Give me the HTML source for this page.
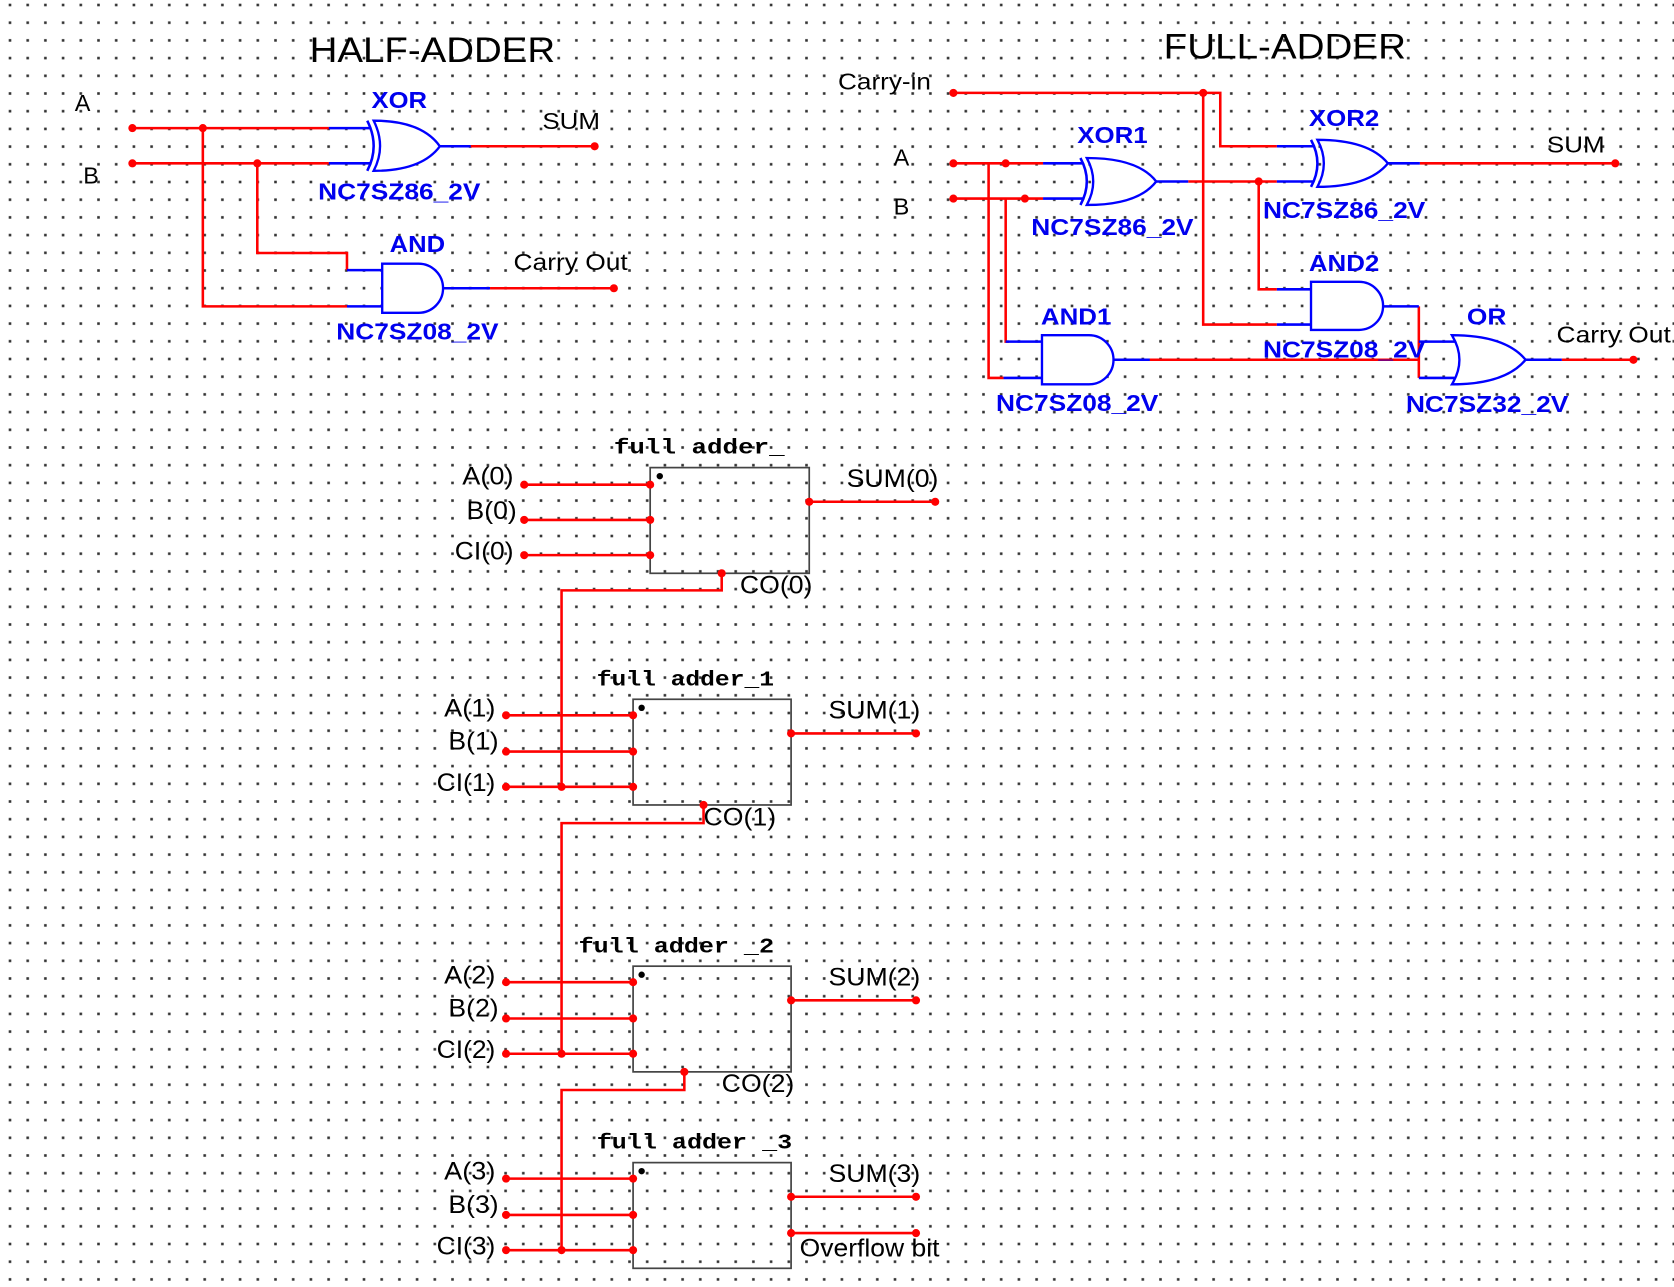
<!DOCTYPE html>
<html><head><meta charset="utf-8"><style>
html,body{margin:0;padding:0;background:#fff;}
svg{display:block;}
.t{font-family:"Liberation Sans",sans-serif;fill:#000;}
.b{font-family:"Liberation Sans",sans-serif;font-weight:bold;fill:#0000ee;}
.m{font-family:"Liberation Mono",monospace;font-weight:bold;fill:#000;}
.r{stroke:#ff0000;stroke-width:2.4;fill:none;}
.u{stroke:#0000ff;stroke-width:2.4;fill:none;}
.g{stroke:#0000ff;stroke-width:2.2;fill:#fff;}
.k{stroke:#444;stroke-width:1.6;fill:none;}
</style></head><body>
<svg width="1674" height="1287" viewBox="0 0 1674 1287" xmlns="http://www.w3.org/2000/svg">
<defs>
<pattern id="grid" x="10" y="5" width="17.7" height="17.7" patternUnits="userSpaceOnUse">
<rect x="-1.3" y="-1.3" width="2.6" height="2.6" fill="#333"/>
<rect x="16.4" y="-1.3" width="2.6" height="2.6" fill="#333"/>
<rect x="-1.3" y="16.4" width="2.6" height="2.6" fill="#333"/>
<rect x="16.4" y="16.4" width="2.6" height="2.6" fill="#333"/>
</pattern>
</defs>
<rect width="1674" height="1287" fill="#fff"/>
<rect width="1674" height="1287" fill="url(#grid)"/>
<g transform="scale(1.0676)">
<!-- HALF ADDER -->
<text class="t" x="290" y="58" font-size="33" textLength="230" lengthAdjust="spacingAndGlyphs">HALF-ADDER</text>
<text class="t" x="70" y="104" font-size="22">A</text>
<text class="t" x="78" y="172" font-size="22">B</text>
<path class="r" d="M124 120H308 M124 153H308 M190 120V287H325 M241 153V237H325V253"/>
<path class="u" d="M308 120H348 M308 153H348 M325 253H358 M325 287H358"/>
<path class="g" d="M350 113 Q362 137 350 160 Q395 160 412 137 Q395 113 350 113Z"/>
<path class="u" d="M344 113 Q356 137 344 160"/>
<path class="u" d="M412 137H441"/><path class="r" d="M441 137H557"/>
<path class="g" d="M358 247H392 A23 23 0 0 1 392 293H358Z"/>
<path class="u" d="M415 270H459"/><path class="r" d="M459 270H575"/>
<g fill="#f00"><circle cx="124" cy="120" r="3.8"/><circle cx="124" cy="153" r="3.8"/><circle cx="190" cy="120" r="3.8"/><circle cx="241" cy="153" r="3.8"/><circle cx="557" cy="137" r="3.8"/><circle cx="575" cy="270" r="3.8"/></g>
<text class="b" x="348" y="101" font-size="22" textLength="52" lengthAdjust="spacingAndGlyphs">XOR</text>
<text class="b" x="298" y="187" font-size="22" textLength="152" lengthAdjust="spacingAndGlyphs">NC7SZ86_2V</text>
<text class="t" x="508" y="121" font-size="22" textLength="54" lengthAdjust="spacingAndGlyphs">SUM</text>
<text class="b" x="365" y="236" font-size="22" textLength="52" lengthAdjust="spacingAndGlyphs">AND</text>
<text class="t" x="481" y="253" font-size="22" textLength="107" lengthAdjust="spacingAndGlyphs">Carry Out</text>
<text class="b" x="315" y="318" font-size="22" textLength="152" lengthAdjust="spacingAndGlyphs">NC7SZ08_2V</text>

<!-- FULL ADDER -->
<text class="t" x="1090" y="55" font-size="33" textLength="227" lengthAdjust="spacingAndGlyphs">FULL-ADDER</text>
<text class="t" x="785" y="84" font-size="22" textLength="87" lengthAdjust="spacingAndGlyphs">Carry-in</text>
<text class="t" x="837" y="155" font-size="22">A</text>
<text class="t" x="837" y="201" font-size="22">B</text>
<path class="r" d="M893 87H1143V137H1196 M1127 87V304H1196 M893 153H977 M893 186H977 M926 153V354H940 M942 186V320H945 M1113 170H1196 M1179 170V271H1196 M1043 337H1329 M1329 287V354"/>
<path class="u" d="M1196 137H1230 M1196 170H1230 M1196 271H1228 M1196 304H1228 M977 153H1014 M977 186H1014 M940 354H976 M942 320H976 M1296 287H1329 M1329 320H1365 M1329 354H1365"/>
<path class="g" d="M1234 131 Q1246 153 1234 175 Q1282 175 1300 153 Q1282 131 1234 131Z"/>
<path class="u" d="M1228 131 Q1240 153 1228 175"/>
<path class="u" d="M1300 153H1330"/><path class="r" d="M1330 153H1513"/>
<path class="g" d="M1018 148 Q1030 170 1018 192 Q1066 192 1083 170 Q1066 148 1018 148Z"/>
<path class="u" d="M1012 148 Q1024 170 1012 192"/>
<path class="u" d="M1083 170H1113"/>
<path class="g" d="M1228 264H1273 A22.5 22.5 0 0 1 1273 309H1228Z"/>
<path class="g" d="M976 314H1020 A23 23 0 0 1 1020 360H976Z"/>
<path class="u" d="M1043 337H1077"/>
<path class="g" d="M1360 314 Q1374 337 1360 360 Q1410 360 1429 337 Q1410 314 1360 314Z"/>
<path class="u" d="M1429 337H1463"/><path class="r" d="M1463 337H1530"/>
<g fill="#f00"><circle cx="893" cy="87" r="3.8"/><circle cx="1127" cy="87" r="3.8"/><circle cx="893" cy="153" r="3.8"/><circle cx="893" cy="186" r="3.8"/><circle cx="942" cy="153" r="3.8"/><circle cx="960" cy="186" r="3.8"/><circle cx="1179" cy="170" r="3.8"/><circle cx="1513" cy="153" r="3.8"/><circle cx="1530" cy="337" r="3.8"/></g>
<text class="b" x="1009" y="134" font-size="22" textLength="66" lengthAdjust="spacingAndGlyphs">XOR1</text>
<text class="b" x="966" y="220" font-size="22" textLength="152" lengthAdjust="spacingAndGlyphs">NC7SZ86_2V</text>
<text class="b" x="1226" y="118" font-size="22" textLength="66" lengthAdjust="spacingAndGlyphs">XOR2</text>
<text class="b" x="1183" y="204" font-size="22" textLength="152" lengthAdjust="spacingAndGlyphs">NC7SZ86_2V</text>
<text class="t" x="1449" y="143" font-size="22" textLength="54" lengthAdjust="spacingAndGlyphs">SUM</text>
<text class="b" x="1226" y="254" font-size="22" textLength="66" lengthAdjust="spacingAndGlyphs">AND2</text>
<text class="b" x="1183" y="335" font-size="22" textLength="152" lengthAdjust="spacingAndGlyphs">NC7SZ08_2V</text>
<text class="b" x="975" y="304" font-size="22" textLength="66" lengthAdjust="spacingAndGlyphs">AND1</text>
<text class="b" x="933" y="385" font-size="22" textLength="152" lengthAdjust="spacingAndGlyphs">NC7SZ08_2V</text>
<text class="b" x="1374" y="304" font-size="22" textLength="37" lengthAdjust="spacingAndGlyphs">OR</text>
<text class="t" x="1458" y="321" font-size="22" textLength="107" lengthAdjust="spacingAndGlyphs">Carry Out</text>
<text class="b" x="1317" y="386" font-size="22" textLength="152" lengthAdjust="spacingAndGlyphs">NC7SZ32_2V</text>

<!-- 4-bit adder -->
<g>
<rect x="609" y="438" width="149" height="99" class="k"/>
<rect x="593" y="655" width="148" height="99" class="k"/>
<rect x="593" y="905" width="148" height="99" class="k"/>
<rect x="593" y="1089" width="148" height="99" class="k"/>
<g fill="#000"><circle cx="618" cy="446" r="3"/><circle cx="601" cy="663" r="3"/><circle cx="601" cy="913" r="3"/><circle cx="601" cy="1097" r="3"/></g>
<path class="r" d="M491 454H609 M491 487H609 M491 520H609 M758 470H876 M676 537V553H526V737
M474 670H593 M474 704H593 M474 737H593 M741 687H858 M659 754V771H526V987
M474 920H593 M474 954H593 M474 987H593 M741 937H858 M641 1004V1021H526V1171
M474 1104H593 M474 1138H593 M474 1171H593 M741 1121H858 M741 1155H858"/>
<g fill="#f00">
<circle cx="491" cy="454" r="3.8"/><circle cx="491" cy="487" r="3.8"/><circle cx="491" cy="520" r="3.8"/><circle cx="609" cy="454" r="3.8"/><circle cx="609" cy="487" r="3.8"/><circle cx="609" cy="520" r="3.8"/><circle cx="758" cy="470" r="3.8"/><circle cx="876" cy="470" r="3.8"/><circle cx="676" cy="537" r="3.8"/>
<circle cx="474" cy="670" r="3.8"/><circle cx="474" cy="704" r="3.8"/><circle cx="474" cy="737" r="3.8"/><circle cx="593" cy="670" r="3.8"/><circle cx="593" cy="704" r="3.8"/><circle cx="593" cy="737" r="3.8"/><circle cx="526" cy="737" r="3.8"/><circle cx="741" cy="687" r="3.8"/><circle cx="858" cy="687" r="3.8"/><circle cx="659" cy="754" r="3.8"/>
<circle cx="474" cy="920" r="3.8"/><circle cx="474" cy="954" r="3.8"/><circle cx="474" cy="987" r="3.8"/><circle cx="593" cy="920" r="3.8"/><circle cx="593" cy="954" r="3.8"/><circle cx="593" cy="987" r="3.8"/><circle cx="526" cy="987" r="3.8"/><circle cx="741" cy="937" r="3.8"/><circle cx="858" cy="937" r="3.8"/><circle cx="641" cy="1004" r="3.8"/>
<circle cx="474" cy="1104" r="3.8"/><circle cx="474" cy="1138" r="3.8"/><circle cx="474" cy="1171" r="3.8"/><circle cx="593" cy="1104" r="3.8"/><circle cx="593" cy="1138" r="3.8"/><circle cx="593" cy="1171" r="3.8"/><circle cx="526" cy="1171" r="3.8"/><circle cx="741" cy="1121" r="3.8"/><circle cx="858" cy="1121" r="3.8"/><circle cx="741" cy="1155" r="3.8"/><circle cx="858" cy="1155" r="3.8"/>
</g>
<text class="m" x="575" y="425" font-size="20" textLength="160" lengthAdjust="spacingAndGlyphs">full adder_</text>
<text class="m" x="559" y="642" font-size="20" textLength="166" lengthAdjust="spacingAndGlyphs">full adder_1</text>
<text class="m" x="542" y="892" font-size="20" textLength="183" lengthAdjust="spacingAndGlyphs">full adder _2</text>
<text class="m" x="559" y="1076" font-size="20" textLength="183" lengthAdjust="spacingAndGlyphs">full adder _3</text>
<g class="t" font-size="23">
<text x="433" y="454" textLength="48" lengthAdjust="spacingAndGlyphs">A(0)</text><text x="437" y="486" textLength="47" lengthAdjust="spacingAndGlyphs">B(0)</text><text x="426" y="524" textLength="55" lengthAdjust="spacingAndGlyphs">CI(0)</text>
<text x="793" y="456" textLength="86" lengthAdjust="spacingAndGlyphs">SUM(0)</text><text x="693" y="556" textLength="68" lengthAdjust="spacingAndGlyphs">CO(0)</text>
<text x="416" y="671" textLength="48" lengthAdjust="spacingAndGlyphs">A(1)</text><text x="420" y="702" textLength="47" lengthAdjust="spacingAndGlyphs">B(1)</text><text x="409" y="741" textLength="55" lengthAdjust="spacingAndGlyphs">CI(1)</text>
<text x="776" y="673" textLength="86" lengthAdjust="spacingAndGlyphs">SUM(1)</text><text x="659" y="773" textLength="68" lengthAdjust="spacingAndGlyphs">CO(1)</text>
<text x="416" y="921" textLength="48" lengthAdjust="spacingAndGlyphs">A(2)</text><text x="420" y="952" textLength="47" lengthAdjust="spacingAndGlyphs">B(2)</text><text x="409" y="991" textLength="55" lengthAdjust="spacingAndGlyphs">CI(2)</text>
<text x="776" y="923" textLength="86" lengthAdjust="spacingAndGlyphs">SUM(2)</text><text x="676" y="1023" textLength="68" lengthAdjust="spacingAndGlyphs">CO(2)</text>
<text x="416" y="1105" textLength="48" lengthAdjust="spacingAndGlyphs">A(3)</text><text x="420" y="1136" textLength="47" lengthAdjust="spacingAndGlyphs">B(3)</text><text x="409" y="1175" textLength="55" lengthAdjust="spacingAndGlyphs">CI(3)</text>
<text x="776" y="1107" textLength="86" lengthAdjust="spacingAndGlyphs">SUM(3)</text><text x="749" y="1177" textLength="131" lengthAdjust="spacingAndGlyphs">Overflow bit</text>
</g>
</g>
</g>
</svg>
</body></html>
